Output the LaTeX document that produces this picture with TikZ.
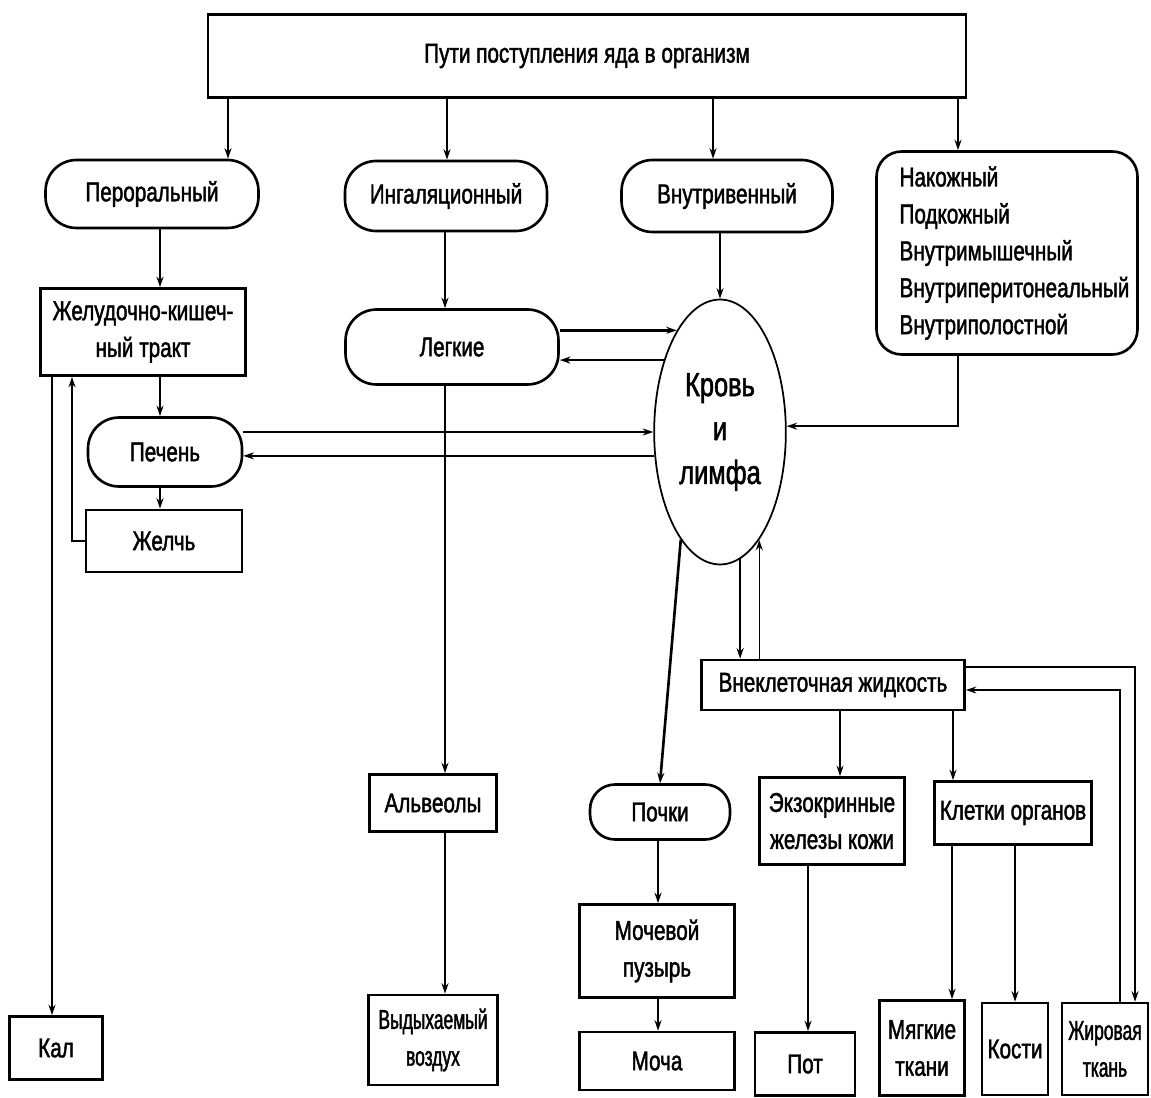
\documentclass[tikz,border=0pt]{standalone}
\usepackage{fontspec}
\setmainfont{Liberation Sans}[FakeStretch=0.76,FakeBold=1.6]
\newfontfamily\narrowfont{Liberation Sans}[FakeStretch=0.64,FakeBold=1.6]
\usetikzlibrary{shapes.geometric,arrows.meta}

\begin{document}
\begin{tikzpicture}[x=0.02cm,y=-0.02cm,
		font=\fontsize{15.5}{21}\selectfont,
		>={Stealth[length=6pt,width=4pt]},
		box/.style={draw,line width=1.5pt,rectangle,align=center,inner sep=0pt},
		pill/.style={box,rounded corners=0.62cm},
		link/.style={line width=1.5pt,->},
		back/.style={line width=0.8pt,->}]
		\useasboundingbox (0,0) rectangle (1151,1097);
		% ways in
		\node[box,minimum width=15.16cm,minimum height=1.66cm] (top) at (587,56) {\raisebox{-0.1cm}{Пути поступления яда в организм}};
		\node[pill,minimum width=4.26cm,minimum height=1.36cm] (per) at (152,194) {Пероральный};
		\node[pill,minimum width=4.04cm,minimum height=1.4cm] (ing) at (446,196) {Ингаляционный};
		\node[pill,minimum width=4.22cm,minimum height=1.44cm] (vnv) at (727,196) {Внутривенный};
		\node[box,rounded corners=0.5cm,minimum width=5.22cm,minimum height=4.06cm,align=left,text width=4.3cm] (nak) at (1007,253)
			{Накожный\\Подкожный\\Внутримышечный\\Внутриперитонеальный\\Внутриполостной};
		% organs
		\node[box,minimum width=4.1cm,minimum height=1.74cm] (zhkt) at (143,332) {Желудочно-кишеч-\\ный тракт};
		\node[pill,minimum width=3.08cm,minimum height=1.38cm] (pech) at (165,452) {Печень};
		\node[box,minimum width=3.12cm,minimum height=1.24cm] (zhelch) at (164,541) {Желчь};
		\node[pill,minimum width=4.26cm,minimum height=1.5cm] (leg) at (452,347) {Легкие};
		\node[draw,line width=1pt,ellipse,minimum width=2.6cm,minimum height=5.3cm,align=center,font=\fontsize{19}{25}\selectfont] (blood) at (720,432) {Кровь\\и\\лимфа};
		\node[box,minimum width=5.26cm,minimum height=1cm] (vnek) at (833,685) {Внеклеточная жидкость};
		% way out
		\node[box,minimum width=1.86cm,minimum height=1.26cm] (kal) at (56,1048) {Кал};
		\node[box,minimum width=2.54cm,minimum height=1.14cm] (alv) at (433,803) {Альвеолы};
		\node[box,minimum width=2.58cm,minimum height=1.8cm,font=\fontsize{15.5}{21}\narrowfont] (vyd) at (433,1040) {Выдыхаемый\\воздух};
		\node[pill,minimum width=2.8cm,minimum height=1.1cm,rounded corners=0.5cm] (pochki) at (660,812) {Почки};
		\node[box,minimum width=3.1cm,minimum height=1.86cm] (mpuz) at (657,951) {Мочевой\\пузырь};
		\node[box,minimum width=3.1cm,minimum height=1.16cm] (mocha) at (657,1061) {Моча};
		\node[box,minimum width=2.9cm,minimum height=1.74cm] (ekz) at (832,821) {Экзокринные\\железы кожи};
		\node[box,minimum width=3.14cm,minimum height=1.26cm] (kl) at (1013,813) {Клетки органов};
		\node[box,minimum width=2cm,minimum height=1.26cm] (pot) at (805,1064) {Пот};
		\node[box,minimum width=1.7cm,minimum height=1.9cm] (myag) at (922,1048) {Мягкие\\ткани};
		\node[box,minimum width=1.32cm,minimum height=1.84cm] (kost) at (1015,1049) {Кости};
		\node[box,minimum width=1.72cm,minimum height=1.84cm,font=\fontsize{15.5}{21}\narrowfont] (zhir) at (1105,1049) {Жировая\\ткань};
		% arrows from the top box
		\draw[link] (top.south -| 228,0) -- (per.north -| 228,0);
		\draw[link] (top.south -| 447,0) -- (ing.north -| 447,0);
		\draw[link] (top.south -| 713,0) -- (vnv.north -| 713,0);
		\draw[link] (top.south -| 958,0) -- (nak.north -| 958,0);
		% per os
		\draw[link] (per.south -| 160,0) -- (zhkt.north -| 160,0);
		\draw[link] (zhkt.south -| 160,0) -- (pech.north -| 160,0);
		\draw[link] (pech.south -| 160,0) -- (zhelch.north -| 160,0);
		\draw[back] (zhelch.west) -| (zhkt.south -| 72,0);
		\draw[link] (zhkt.south -| 52,0) -- (kal.north -| 52,0);
		\draw[link] (pech.east |- 0,432) -- (blood.180);
		\draw[link] (blood.200) -- (pech.east |- blood.200);
		% lungs
		\draw[link] (ing.south -| 445,0) -- (leg.north -| 445,0);
		\draw[link] (leg.east |- blood.113) -- (blood.113);
		\draw[link] (blood.128) -- (leg.east |- blood.128);
		\draw[link] (leg.south -| 445,0) -- (alv.north -| 445,0);
		\draw[link] (alv.south -| 445,0) -- (vyd.north -| 445,0);
		% blood
		\draw[link] (vnv.south -| blood.north) -- (blood.north);
		\draw[link] (nak.south -| 958,0) |- (blood.5);
		\draw[link] (blood.250) -- (pochki.north);
		\draw[link] (pochki.south -| 658,0) -- (mpuz.north -| 658,0);
		\draw[link] (mpuz.south -| 658,0) -- (mocha.north -| 658,0);
		\draw[link] (blood.-81) -- (vnek.north -| blood.-81);
		\draw[back] (vnek.north -| blood.-70) -- (blood.-70);
		% tissues
		\draw[link] (vnek.south -| 840,0) -- (ekz.north -| 840,0);
		\draw[link] (vnek.south -| 953,0) -- (kl.north -| 953,0);
		\draw[link] (ekz.south -| 808,0) -- (pot.north -| 808,0);
		\draw[link] (kl.south -| 952,0) -- (myag.north -| 952,0);
		\draw[link] (kl.south -| 1015,0) -- (kost.north -| 1015,0);
		\draw[link] (vnek.east |- 0,667) -| (zhir.north -| 1135,0);
		\draw[back] (zhir.north -| 1120,0) |- (vnek.east |- 0,690);
\end{tikzpicture}
\end{document}
